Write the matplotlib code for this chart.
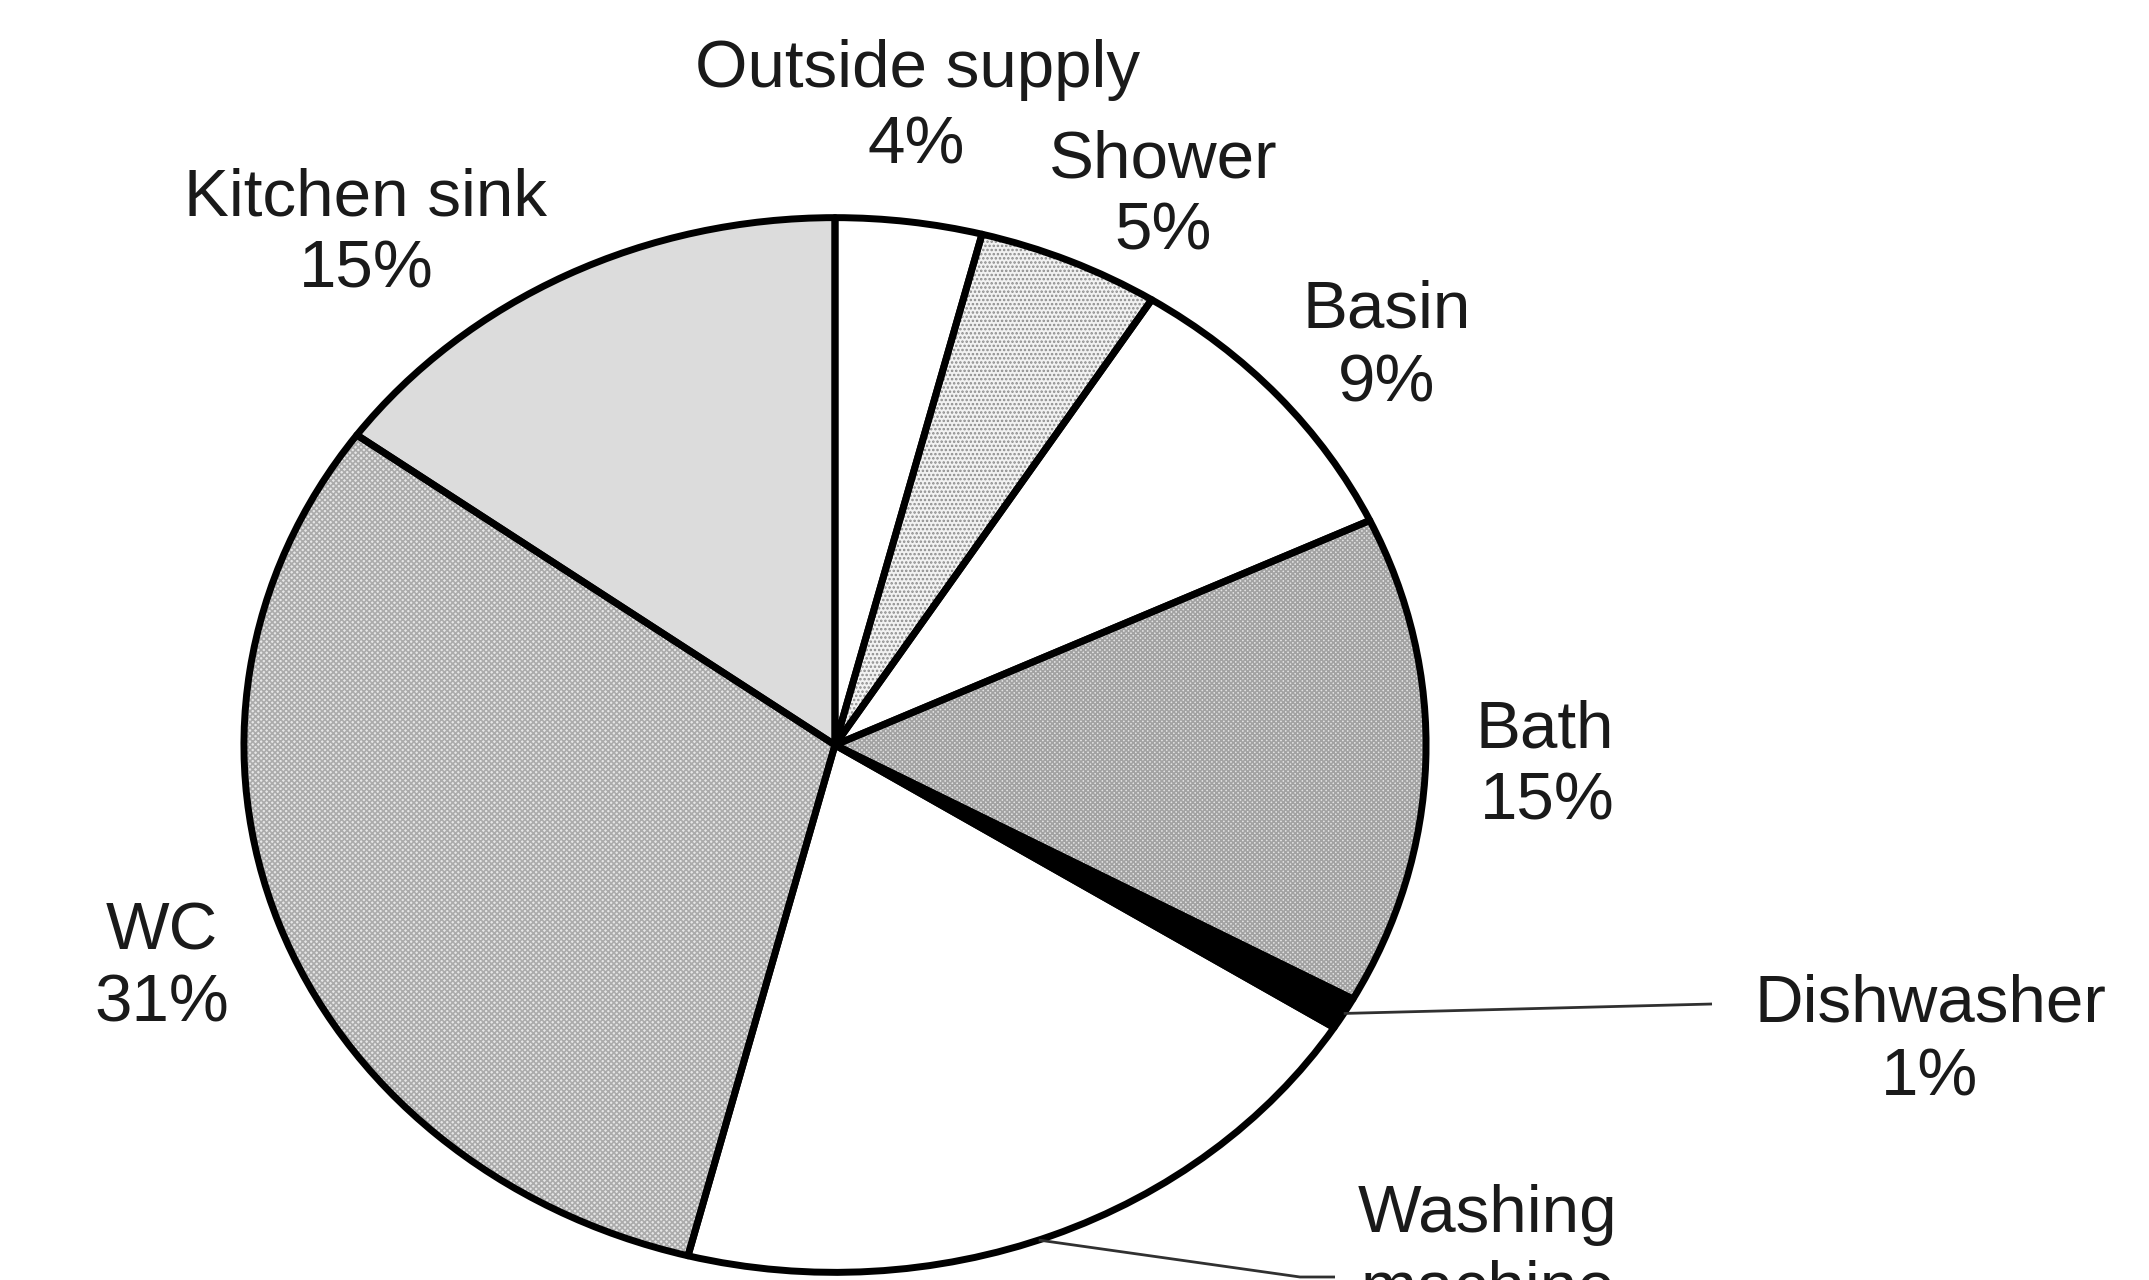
import matplotlib
matplotlib.use("Agg")
import matplotlib.pyplot as plt
import numpy as np

# ---- data ----
categories = ["Outside supply", "Shower", "Basin", "Bath", "Dishwasher",
              "Washing machine", "WC", "Kitchen sink"]
values = [4, 5, 9, 15, 1, 20, 31, 15]

# ---- styles ----
face_colors = ["white", "#f2f2f2", "white", "#e2e2e2", "black",
               "white", "#e6e6e6", "#dcdcdc"]
hatches = [None, "....", None, "xxxxxxx", None, None, "xxxxxx", None]
hatch_colors = ["white", "#8c8c8c", "white", "#a2a2a2", "black",
                "white", "#ababab", "#dcdcdc"]

plt.rcParams["hatch.linewidth"] = 1.2
plt.rcParams["font.family"] = ["Liberation Sans", "DejaVu Sans"]

W, H = 2149, 1280
fig = plt.figure(figsize=(W / 100, H / 100), dpi=100)
fig.patch.set_facecolor("white")

# pie axes (ellipse: center (835,745), rx 594, ry 530 in pixels)
cx, cy, rx, ry = 835, 745, 594, 530
ax = fig.add_axes([(cx - rx) / W, 1 - (cy + ry) / H, 2 * rx / W, 2 * ry / H])

wedges, _ = ax.pie(values, startangle=90, counterclock=False,
                   colors=face_colors, radius=1.0,
                   wedgeprops=dict(linewidth=0))
for w, h, hc in zip(wedges, hatches, hatch_colors):
    w.set_edgecolor(hc)
    w.set_linewidth(0)
    if h:
        w.set_hatch(h)

outline, _ = ax.pie(values, startangle=90, counterclock=False, radius=1.0,
                    wedgeprops=dict(fill=False, edgecolor="black",
                                    linewidth=5.0, joinstyle="round"))
ax.set_xlim(-1.005, 1.005)
ax.set_ylim(-1.005, 1.005)
ax.set_aspect("auto")
ax.axis("off")

# overlay axes in pixel coordinates for labels
tax = fig.add_axes([0, 0, 1, 1], facecolor="none")
tax.set_xlim(0, W)
tax.set_ylim(H, 0)
tax.axis("off")


def pie_point(idx, frac=0.5, r=1.0):
    total = sum(values)
    start = sum(values[:idx])
    pos = (start + frac * values[idx]) / total
    ang = np.deg2rad(90 - 360 * pos)
    disp = ax.transData.transform((r * np.cos(ang), r * np.sin(ang)))
    return tax.transData.inverted().transform(disp)


fs = 48.5
tcol = "#1a1a1a"
# label positions (line-1 centre, line-2 centre) in pixels
label_pos = {
    "Outside supply": (918, 70, 916, 147),
    "Shower": (1163, 160, 1163, 233),
    "Basin": (1387, 310, 1387, 384),
    "Bath": (1545, 730, 1547, 803),
    "Dishwasher": (1930, 1004, 1930, 1078),
    "Washing machine": (1488, 1215, 1488, 1290),
    "WC": (162, 933, 162, 1005),
    "Kitchen sink": (366, 199, 366, 270),
}

for name, v in zip(categories, values):
    x1, y1, x2, y2 = label_pos[name]
    if name == "Washing machine":
        tax.text(x1, y1, "Washing", fontsize=fs, color=tcol,
                 ha="center", va="center")
        tax.text(x2, y2, "machine", fontsize=fs, color=tcol,
                 ha="center", va="center")
        tax.text(x2, y2 + 73, f"{v}%", fontsize=fs, color=tcol,
                 ha="center", va="center")
    else:
        tax.text(x1, y1, name, fontsize=fs, color=tcol,
                 ha="center", va="center")
        tax.text(x2, y2, f"{v}%", fontsize=fs, color=tcol,
                 ha="center", va="center")

# leader lines
i_dw = categories.index("Dishwasher")
p = pie_point(i_dw, 0.5)
tax.plot([p[0], 1712], [p[1], 1004], color="#303030", lw=2.0,
         solid_capstyle="butt")

i_wm = categories.index("Washing machine")
p = pie_point(i_wm, 0.52)
tax.plot([p[0], 1300, 1335], [p[1], 1277, 1277], color="#303030", lw=2.0,
         solid_capstyle="butt")

fig.savefig("out.png", dpi=100, facecolor="white")
